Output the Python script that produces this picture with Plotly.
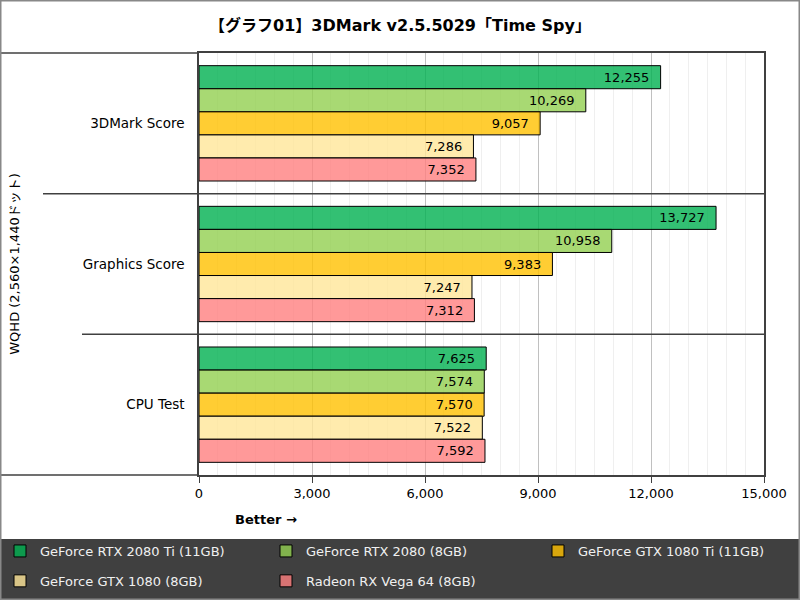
import plotly.graph_objects as go

# データ
tests = ['3DMark Score', 'Graphics Score', 'CPU Test']
gpus = [
    'GeForce RTX 2080 Ti (11GB)',
    'GeForce RTX 2080 (8GB)',
    'GeForce GTX 1080 Ti (11GB)',
    'GeForce GTX 1080 (8GB)',
    'Radeon RX Vega 64 (8GB)',
]
rtx2080ti = [12255, 13727, 7625]
rtx2080 = [10269, 10958, 7574]
gtx1080ti = [9057, 9383, 7570]
gtx1080 = [7286, 7247, 7522]
vega64 = [7352, 7312, 7592]
series = [rtx2080ti, rtx2080, gtx1080ti, gtx1080, vega64]
colors = ['rgba(0,176,80,0.8)', 'rgba(146,208,80,0.8)', 'rgba(255,192,0,0.8)',
          'rgba(255,230,153,0.8)', 'rgba(255,127,127,0.8)']
# 凡例の列（3列×2行の並び）
legend_cols = ['legend', 'legend2', 'legend3', 'legend', 'legend2']

FONT = 'DejaVu Sans, Noto Sans CJK JP, sans-serif'

fig = go.Figure()
for name, vals, col, lg in zip(gpus, series, colors, legend_cols):
    fig.add_trace(go.Bar(
        y=tests,
        x=vals,
        name=name,
        legend=lg,
        legendgroup=name,
        orientation='h',
        marker=dict(color=col, line=dict(color='#000000', width=1)),
        texttemplate='%{x:,}\u00a0\u00a0',
        textposition='inside',
        insidetextanchor='end',
        textfont=dict(color='#000000', size=13, family=FONT),
        constraintext='none',
        hovertemplate='%{y}: %{x:,}<extra>' + name + '</extra>',
    ))

# ピクセル → paper 座標
def px(p):
    return (p - 199) / 565

def py(q):
    return (475 - q) / 422

shapes = [
    dict(type='rect', xref='paper', yref='paper', x0=px(0), x1=px(800),
         y0=py(600), y1=py(539),
         fillcolor='#404040', line=dict(width=0), layer='below'),
    dict(type='line', xref='paper', yref='paper', x0=px(0), x1=0, y0=1, y1=1,
         line=dict(color='#404040', width=1.5)),
    dict(type='line', xref='paper', yref='paper', x0=px(0), x1=0, y0=0, y1=0,
         line=dict(color='#404040', width=1.5)),
    dict(type='line', xref='paper', yref='y', x0=px(43), x1=1, y0=0.5, y1=0.5,
         line=dict(color='#404040', width=1.5)),
    dict(type='line', xref='paper', yref='y', x0=px(82), x1=1, y0=1.5, y1=1.5,
         line=dict(color='#404040', width=1.5)),
    dict(type='rect', xref='paper', yref='paper', x0=px(0.5), x1=px(799.5),
         y0=py(599.5), y1=py(0.5),
         line=dict(color='#888888', width=2)),
]

legend_style = dict(orientation='v', xanchor='left', yanchor='top',
                    bgcolor='rgba(0,0,0,0)', borderwidth=0,
                    font=dict(color='#f0f0f0', size=13, family=FONT),
                    traceorder='grouped', itemwidth=30, tracegroupgap=10)

fig.update_layout(
    width=800, height=600,
    margin=dict(l=199, r=36, t=53, b=125, autoexpand=False),
    paper_bgcolor='white',
    plot_bgcolor='white',
    font=dict(family=FONT, size=13, color='#000000'),
    title=dict(text='<b>【グラフ01】3DMark v2.5.5029「Time Spy」</b>',
               x=0.5, xanchor='center', y=1 - 25 / 600, yanchor='middle',
               font=dict(size=16, family=FONT, color='#000000')),
    barmode='group',
    bargap=0.18,
    bargroupgap=0,
    showlegend=True,
    legend=dict(x=px(0), y=py(536), **legend_style),
    legend2=dict(x=px(266), y=py(536), **legend_style),
    legend3=dict(x=px(538), y=py(536), **legend_style),
    shapes=shapes,
    annotations=[
        dict(text='<b>Better →</b>', xref='paper', yref='paper',
             x=px(233), y=py(519), xanchor='left', yanchor='middle',
             showarrow=False, font=dict(size=13, family=FONT, color='#000000')),
    ],
)

fig.update_xaxes(
    range=[0, 15000], dtick=3000, tickformat=',',
    showgrid=True, gridcolor='#c0c0c0', gridwidth=1,
    minor=dict(dtick=500, showgrid=True, gridcolor='#efefef', gridwidth=1),
    showline=True, linecolor='#404040', linewidth=1.5, mirror=True,
    ticks='outside', ticklen=6, tickcolor='#404040',
    zeroline=False, fixedrange=True,
    tickfont=dict(size=13, family=FONT, color='#000000'),
)
fig.update_yaxes(
    range=[2.5, -0.5],
    showgrid=False,
    showline=True, linecolor='#404040', linewidth=1.5, mirror=True,
    ticks='', ticklabelstandoff=10,
    automargin=False,
    title=dict(text='WQHD (2,560×1,440ドット)', standoff=60,
               font=dict(size=13, family=FONT, color='#000000')),
    tickfont=dict(size=13.5, family=FONT, color='#000000'),
    fixedrange=True,
)

fig.write_html('out.html',
               config={'displayModeBar': False},
               post_script="document.body.style.margin='0';document.body.style.overflow='hidden';")
